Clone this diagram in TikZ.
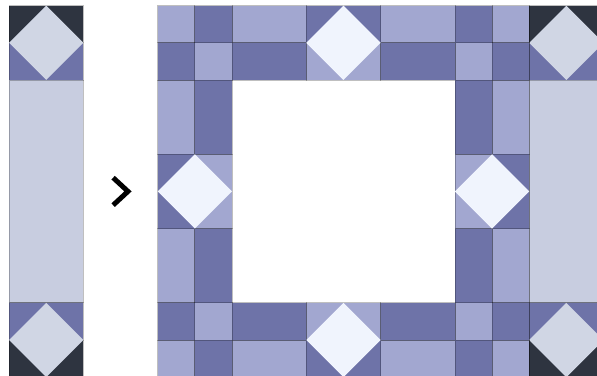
\documentclass[tikz,border=0pt]{standalone}
\usepackage{tikz}
\definecolor{plumdark}{HTML}{6E73A8}
\definecolor{plumlight}{HTML}{A2A7D0}
\definecolor{frost}{HTML}{F0F4FD}
\definecolor{mist}{HTML}{C8CDE0}
\definecolor{mistpale}{HTML}{D0D6E4}
\definecolor{night}{HTML}{2E3440}

\begin{document}
\begin{tikzpicture}[patch/.style={draw=black,draw opacity=0.25,line width=0.6pt},
  dk/.style={patch,fill=plumdark},lt/.style={patch,fill=plumlight},
  gem/.style={fill=frost},stone/.style={fill=mistpale},
  chev/.style={line width=3.8pt,miter limit=10}]
\useasboundingbox (-4.245,0.032) rectangle (11.825,10.153);
% side strips
\foreach \sx in {-4,10}{
  \draw[patch,fill=night] (\sx,9) rectangle ++(2,1);
  \draw[dk] (\sx,8) rectangle ++(2,1);
  \fill[stone] (\sx+1,10) -- (\sx+2,9) -- (\sx+1,8) -- (\sx,9) -- cycle;
  \draw[patch,fill=mist] (\sx,2) rectangle ++(2,6);
  \draw[dk] (\sx,1) rectangle ++(2,1);
  \draw[patch,fill=night] (\sx,0) rectangle ++(2,1);
  \fill[stone] (\sx+1,2) -- (\sx+2,1) -- (\sx+1,0) -- (\sx,1) -- cycle;
}
% frame patches
\foreach \x/\y/\w/\h in {0/9/1/1,1/8/1/1,2/9/2/1,6/9/2/1,9/9/1/1,8/8/1/1,0/6/1/2,9/6/1/2,
  0/2/1/2,9/2/1/2,1/1/1/1,0/0/1/1,2/0/2/1,6/0/2/1,8/1/1/1,9/0/1/1,4/8/2/1,4/1/2/1,1/4/1/2,8/4/1/2}
  \draw[lt] (\x,\y) rectangle ++(\w,\h);
\foreach \x/\y/\w/\h in {1/9/1/1,0/8/1/1,2/8/2/1,6/8/2/1,8/9/1/1,9/8/1/1,1/6/1/2,8/6/1/2,
  1/2/1/2,8/2/1/2,0/1/1/1,1/0/1/1,2/1/2/1,6/1/2/1,9/1/1/1,8/0/1/1,4/9/2/1,4/0/2/1,0/4/1/2,9/4/1/2}
  \draw[dk] (\x,\y) rectangle ++(\w,\h);
% diamonds
\foreach \cx/\cy in {5/9,5/1,1/5,9/5}
  \fill[gem] (\cx,\cy+1) -- (\cx+1,\cy) -- (\cx,\cy-1) -- (\cx-1,\cy) -- cycle;
% chevron
\draw[chev] (-1.2,5.37) -- (-0.8,5) -- (-1.2,4.63);
\end{tikzpicture}
\end{document}
